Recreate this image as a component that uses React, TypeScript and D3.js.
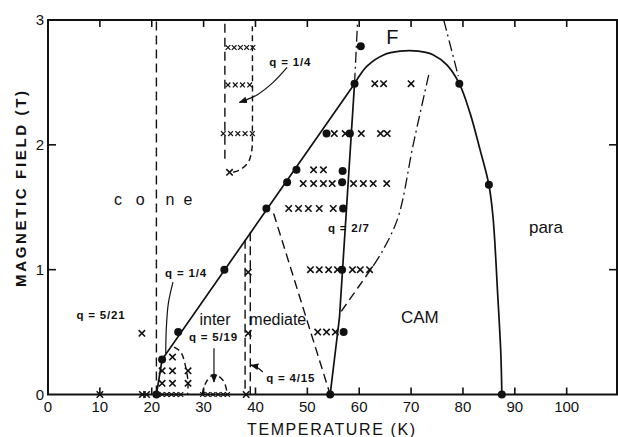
import React from "react";
import * as d3 from "d3";

type P = [number, number];

// ---- axis ticks ----
const xTickValues = [0, 10, 20, 30, 40, 50, 60, 70, 80, 90, 100];
const yTickValues = [0, 1, 2, 3];

// ---- measured transition points (filled circles) ----
const transitionPoints: P[] = [
  [20.9, 0], [22, 0.28], [25.1, 0.5], [34, 1.0], [42.1, 1.49], [46.1, 1.7], [47.9, 1.8],
  [53.7, 2.09], [59.1, 2.49], [60.3, 2.79], [58.2, 2.09], [56.8, 1.79], [56.7, 1.7],
  [56.9, 1.49], [56.7, 1.0], [57.0, 0.5], [54.4, 0], [79.3, 2.49], [85.0, 1.68], [87.5, 0],
];

// ---- satellite observations (x marks) ----
const crossPoints: P[] = [
  [10, 0], [18.2, 0], [19, 0], [38.2, 0],
  [18.1, 0.49],
  [24, 0.3], [22, 0.19], [24, 0.19], [27, 0.19], [22, 0.09], [24, 0.09], [27, 0.09],
  [38.6, 0.98], [38.6, 0.49],
  [52, 0.5], [53.7, 0.5], [55.4, 0.5],
  [50.6, 1], [52.3, 1], [54.1, 1], [55.8, 1], [58.7, 1], [60.2, 1], [62, 1],
  [46.4, 1.49], [48.3, 1.49], [50.2, 1.49], [52.3, 1.49], [55, 1.49],
  [49.2, 1.69], [51.2, 1.69], [53.1, 1.69], [54.8, 1.69], [58.9, 1.69], [60.8, 1.69], [62.7, 1.69], [65.3, 1.69],
  [51.2, 1.8], [53.1, 1.8],
  [55.2, 2.09], [57.3, 2.09], [60.4, 2.09], [64.1, 2.09], [65.4, 2.09],
  [63, 2.49], [64.7, 2.49], [70, 2.49],
  [35, 1.78],
];

const smallCrossPoints: P[] = [
  [34.7, 2.78], [35.9, 2.78], [37.1, 2.78], [38.3, 2.78], [39.5, 2.78],
  [34.7, 2.48], [36.1, 2.48], [37.5, 2.48], [38.9, 2.48],
  [33.8, 2.09], [35.2, 2.09], [36.6, 2.09], [38.0, 2.09], [39.4, 2.09],
  [22, 0], [22.9, 0], [23.8, 0], [24.7, 0], [25.6, 0],
  [29.8, 0], [30.8, 0], [31.8, 0], [32.8, 0], [33.8, 0], [34.6, 0],
];

// ---- solid phase boundaries ----
const coneBoundary: P[] = [[20.9, 0], [22, 0.28], [59.1, 2.49]];
const ferroBoundary: P[] = [
  [59.1, 2.49], [61.5, 2.63], [64.7, 2.72], [67.9, 2.75], [71.4, 2.75], [74.3, 2.72],
  [76.9, 2.64], [79.3, 2.49], [81.4, 2.25], [83.3, 1.96], [85.0, 1.68], [85.8, 1.42],
  [86.7, 0.8], [87.3, 0.33], [87.5, 0],
];
const camBoundary: P[] = [[54.4, 0], [56.2, 0.62], [59.1, 2.49]];

// ---- dashed / dash-dot boundaries ----
const coneDashed: P[] = [[20.9, 0], [20.9, 3]];
const interDashed: P[] = [[43.5, 1.45], [54.4, 0]];
const camDashed: P[] = [[62.2, 1.0], [56.1, 0.64]];
const camDashDot: P[] = [[73.4, 2.56], [70.4, 2.0], [67.5, 1.42], [64.5, 1.15], [62.2, 1.0]];
const fDashDotLeft: P[] = [[59.1, 2.49], [59.7, 3.0]];
const fDashDotRight: P[] = [[76.3, 3.0], [79.1, 2.55]];
const q14HighLeft: P[] = [[34.1, 2.97], [34.1, 1.86]];
const q14HighRight: P[] = [[35.7, 1.78], [37, 1.8], [38.6, 1.86], [39.3, 1.96], [39.4, 2.1], [39.4, 2.95]];
const q14LowDome: P[] = [[24.3, 0.38], [25.6, 0.34], [26.6, 0.21], [27.0, 0.09], [26.9, 0]];
const q519Dome: P[] = [[29.7, 0], [30.5, 0.1], [32, 0.16], [33.8, 0.11], [34.6, 0]];
const q415Left: P[] = [[38.0, 1.24], [38.0, 0]];
const q415Right: P[] = [[39.0, 1.3], [39.0, 0]];

// ---- annotation leaders ----
const leaderQ14Low: P[] = [[24.1, 0.9], [23.2, 0.73], [22.8, 0.52], [22.7, 0.33]];
const leaderQ14High: P[] = [[46.1, 2.62], [43.4, 2.5], [40.3, 2.4], [36.9, 2.34]];
const leaderQ519: P[] = [[32, 0.37], [32, 0.1]];
const leaderQ415: P[] = [[41.4, 0.18], [40.2, 0.22], [39.1, 0.235]];

// ---- text labels ----
const regionLabels: { text: string; at: P; size: number }[] = [
  { text: "c", at: [13.5, 1.56], size: 16 },
  { text: "o", at: [17.8, 1.56], size: 16 },
  { text: "n", at: [23.5, 1.56], size: 16 },
  { text: "e", at: [27.0, 1.56], size: 16 },
  { text: "inter", at: [32.2, 0.6], size: 16 },
  { text: "mediate", at: [44.3, 0.6], size: 16 },
  { text: "CAM", at: [71.7, 0.62], size: 17 },
  { text: "para", at: [96.0, 1.34], size: 17 },
  { text: "F", at: [66.4, 2.86], size: 20 },
];
const qLabels: { text: string; at: P }[] = [
  { text: "q = 1/4", at: [46.7, 2.66] },
  { text: "q = 1/4", at: [26.6, 0.97] },
  { text: "q = 5/21", at: [10.2, 0.64] },
  { text: "q = 5/19", at: [31.9, 0.46] },
  { text: "q = 4/15", at: [46.8, 0.13] },
  { text: "q = 2/7", at: [58.0, 1.33] },
];

const W = 618;
const H = 437;

export default function App() {
  const x = d3.scaleLinear().domain([0, 109.7]).range([48, 617]);
  const y = d3.scaleLinear().domain([0, 3]).range([394.5, 20]);

  const straight = d3.line<P>().x((d) => x(d[0])).y((d) => y(d[1]));
  const smooth = d3
    .line<P>()
    .x((d) => x(d[0]))
    .y((d) => y(d[1]))
    .curve(d3.curveCatmullRom.alpha(0.5));

  const dash = "9,5";
  const dashDot = "11,4,2,4";
  const ink = "#111";

  const cross = (p: P, r: number, sw: number, key: string) => {
    const cx = x(p[0]);
    const cy = y(p[1]);
    return (
      <path
        key={key}
        d={`M${cx - r},${cy - r}L${cx + r},${cy + r}M${cx - r},${cy + r}L${cx + r},${cy - r}`}
        stroke={ink}
        strokeWidth={sw}
        fill="none"
      />
    );
  };

  const font = "'Liberation Sans', Arial, sans-serif";

  return (
    <svg
      width={W}
      height={H}
      style={{ position: "absolute", left: 0, top: 0, background: "#fff" }}
      fontFamily={font}
    >
      <defs>
        <marker id="arr" viewBox="0 0 10 10" refX="9" refY="5" markerWidth="7" markerHeight="7" orient="auto">
          <path d="M0,1L10,5L0,9Z" fill={ink} />
        </marker>
      </defs>
      <rect x={0} y={0} width={W} height={H} fill="#fff" />

      {/* frame */}
      <path
        d={`M${x(0)},${y(3)}L${x(109.7)},${y(3)}L${x(109.7)},${y(0)}L${x(0)},${y(0)}Z`}
        fill="none"
        stroke={ink}
        strokeWidth={2}
      />
      {/* bottom ticks (inward) */}
      {xTickValues.filter((t) => t > 0).map((t) => (
        <line key={"bt" + t} x1={x(t)} x2={x(t)} y1={y(0)} y2={y(0) - 7} stroke={ink} strokeWidth={1.6} />
      ))}
      {/* top ticks (inward) */}
      {xTickValues.filter((t) => t > 0).map((t) => (
        <line key={"tt" + t} x1={x(t)} x2={x(t)} y1={y(3)} y2={y(3) + 7} stroke={ink} strokeWidth={1.6} />
      ))}
      {/* left / right ticks */}
      {yTickValues.filter((v) => v > 0 && v < 3).map((v) => (
        <g key={"yt" + v}>
          <line x1={x(0)} x2={x(0) + 8} y1={y(v)} y2={y(v)} stroke={ink} strokeWidth={1.6} />
          <line x1={x(109.7)} x2={x(109.7) - 8} y1={y(v)} y2={y(v)} stroke={ink} strokeWidth={1.6} />
        </g>
      ))}
      {/* tick labels */}
      {xTickValues.map((t) => (
        <text key={"xl" + t} x={x(t)} y={412} fontSize={15} textAnchor="middle" fill={ink}>
          {t}
        </text>
      ))}
      {yTickValues.map((v) => (
        <text key={"yl" + v} x={44} y={y(v) + 5} fontSize={15} textAnchor="end" fill={ink}>
          {v}
        </text>
      ))}
      {/* axis titles */}
      <text x={331} y={435} fontSize={16} textAnchor="middle" textLength={168} lengthAdjust="spacing" fill={ink}>
        TEMPERATURE (K)
      </text>
      <text
        transform={`translate(26,${189}) rotate(-90)`}
        fontSize={15}
        fontWeight={600}
        textAnchor="middle"
        textLength={196}
        lengthAdjust="spacing"
        fill={ink}
      >
        MAGNETIC FIELD (T)
      </text>

      {/* solid boundaries */}
      <path d={straight(coneBoundary) ?? ""} fill="none" stroke={ink} strokeWidth={1.7} />
      <path d={smooth(ferroBoundary) ?? ""} fill="none" stroke={ink} strokeWidth={1.7} />
      <path d={straight(camBoundary) ?? ""} fill="none" stroke={ink} strokeWidth={1.7} />

      {/* dashed boundaries */}
      {[coneDashed, interDashed, camDashed, q14HighLeft, q415Left, q415Right].map((pts, i) => (
        <path key={"ds" + i} d={straight(pts) ?? ""} fill="none" stroke={ink} strokeWidth={1.4} strokeDasharray={dash} />
      ))}
      {[q14HighRight, q14LowDome, q519Dome].map((pts, i) => (
        <path key={"dc" + i} d={smooth(pts) ?? ""} fill="none" stroke={ink} strokeWidth={1.4} strokeDasharray="6,4" />
      ))}
      {/* dash-dot boundaries */}
      <path d={smooth(camDashDot) ?? ""} fill="none" stroke={ink} strokeWidth={1.3} strokeDasharray={dashDot} />
      <path d={straight(fDashDotLeft) ?? ""} fill="none" stroke={ink} strokeWidth={1.3} strokeDasharray={dashDot} />
      <path d={straight(fDashDotRight) ?? ""} fill="none" stroke={ink} strokeWidth={1.3} strokeDasharray={dashDot} />

      {/* leaders */}
      <path d={smooth(leaderQ14Low) ?? ""} fill="none" stroke={ink} strokeWidth={1.2} />
      <path d={smooth(leaderQ14High) ?? ""} fill="none" stroke={ink} strokeWidth={1.2} markerEnd="url(#arr)" />
      <path d={straight(leaderQ519) ?? ""} fill="none" stroke={ink} strokeWidth={1.2} markerEnd="url(#arr)" />
      <path d={smooth(leaderQ415) ?? ""} fill="none" stroke={ink} strokeWidth={1.2} markerEnd="url(#arr)" />

      {/* crosses */}
      {crossPoints.map((p, i) => cross(p, 3.2, 1.6, "c" + i))}
      {smallCrossPoints.map((p, i) => cross(p, 2.4, 1.2, "s" + i))}

      {/* transition points */}
      {transitionPoints.map((p, i) => (
        <circle key={"p" + i} cx={x(p[0])} cy={y(p[1])} r={4} fill={ink} />
      ))}

      {/* labels */}
      {regionLabels.map((l, i) => (
        <text
          key={"rl" + i}
          x={x(l.at[0])}
          y={y(l.at[1]) + l.size * 0.35}
          fontSize={l.size}
          textAnchor="middle"
          fill={ink}
        >
          {l.text}
        </text>
      ))}
      {qLabels.map((l, i) => (
        <text
          key={"ql" + i}
          x={x(l.at[0])}
          y={y(l.at[1]) + 4}
          fontSize={11.5}
          fontWeight="bold"
          letterSpacing={0.8}
          textAnchor="middle"
          fill={ink}
          style={{ whiteSpace: "pre" }}
        >
          {l.text}
        </text>
      ))}
    </svg>
  );
}
